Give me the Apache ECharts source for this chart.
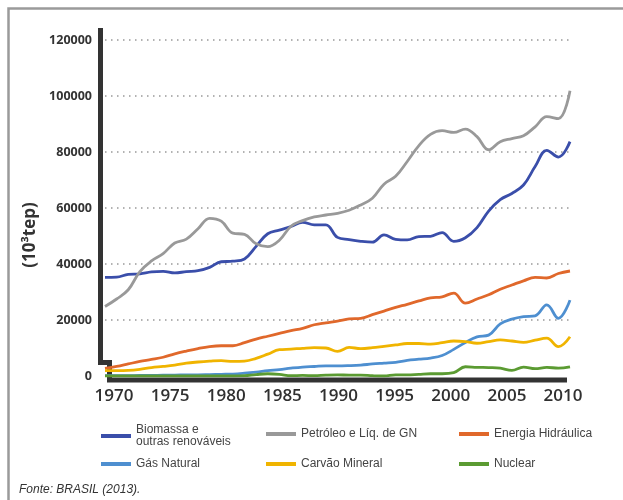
<!DOCTYPE html>
<html>
<head>
<meta charset="utf-8">
<script src="https://cdn.jsdelivr.net/npm/echarts@6/dist/echarts.min.js"></script>
<style>
html,body{margin:0;padding:0;background:#fff;}
#chart{width:623px;height:500px;}
</style>
</head>
<body>
<div id="chart"></div>
<script>
var years = [1970,1971,1972,1973,1974,1975,1976,1977,1978,1979,1980,1981,1982,1983,1984,1985,1986,1987,1988,1989,1990,1991,1992,1993,1994,1995,1996,1997,1998,1999,2000,2001,2002,2003,2004,2005,2006,2007,2008,2009,2010];
var biomassa = [35.2,35.3,36.3,36.5,37.2,37.4,36.8,37.3,37.6,38.8,40.8,41.0,41.8,46.3,50.8,52.1,53.4,54.9,54.0,54.0,49.5,48.7,48.1,47.8,50.4,48.8,48.6,49.8,49.9,51.2,48.1,49.4,53.0,58.9,63.0,65.2,68.2,74.8,80.6,78.2,83.7];
var petroleo = [24.8,27.5,30.8,37.3,41.1,43.7,47.5,48.9,52.6,56.3,55.3,51.0,50.6,47.2,46.2,48.5,53.5,55.5,56.8,57.5,58.1,59.2,61.1,63.5,68.5,71.3,76.6,82.3,86.3,87.6,87.0,88.2,85.5,80.8,83.7,84.8,85.8,89.0,92.6,91.9,101.9];
var hidraulica = [2.7,3.4,4.3,5.2,5.9,6.7,7.9,8.9,9.8,10.5,10.8,10.8,11.9,13.2,14.2,15.2,16.2,17.0,18.3,19.0,19.6,20.4,20.6,21.9,23.2,24.5,25.6,26.8,27.9,28.3,29.6,26.0,27.5,29.0,31.0,32.5,34.0,35.2,35.0,36.6,37.5];
var gasNatural = [0.1,0.1,0.1,0.2,0.2,0.3,0.3,0.4,0.4,0.5,0.6,0.7,1.0,1.4,1.9,2.3,2.8,3.2,3.4,3.6,3.6,3.7,3.9,4.3,4.6,4.9,5.6,6.0,6.4,7.3,9.5,12.0,14.0,14.6,18.6,20.3,21.2,21.5,25.4,20.6,27.1];
var carvao = [1.9,1.9,2.0,2.4,3.0,3.4,3.9,4.6,5.0,5.3,5.5,5.2,5.3,6.3,7.8,9.4,9.6,9.9,10.1,10.0,8.8,10.2,9.8,10.1,10.6,11.1,11.6,11.6,11.4,11.9,12.5,12.3,11.7,12.3,12.9,12.5,12.0,12.8,13.5,10.5,14.0];
var nuclear = [0,0,0,0,0,0,0,0,0,0,0,0,0.1,0.5,0.8,0.6,0.1,0.2,0.1,0.3,0.4,0.3,0.3,0.1,0.0,0.4,0.4,0.6,0.8,0.8,1.2,3.3,3.1,3.0,2.8,2.0,3.2,2.6,3.1,2.8,3.3];
var seriesNames = ['Biomassa e outras renováveis','Petróleo e Líq. de GN','Energia Hidráulica','Gás Natural','Carvão Mineral','Nuclear'];
var yTicks = [0,20000,40000,60000,80000,100000,120000];
var xTicks = [1970,1975,1980,1985,1990,1995,2000,2005,2010];

function pairs(vals){ return years.map(function(y,i){ return [y, vals[i]*1000]; }); }

var colors = ['#3a4eaa','#999999','#e0682b','#4e8fd0','#f0b400','#5b9b32'];
var allVals = [biomassa,petroleo,hidraulica,gasNatural,carvao,nuclear];

var series = seriesNames.map(function(n,i){
  return {
    name:n, type:'line', data:pairs(allVals[i]), smooth:0.4, symbol:'none', xAxisIndex:0,
    lineStyle:{color:colors[i], width:2.8}, itemStyle:{color:colors[i]}, z:3
  };
});

var legendFont = {fontFamily:'"Liberation Sans Narrow","Liberation Sans",sans-serif', fontSize:12, color:'#444', lineHeight:12};
function lg(name, left, top){
  return {data:[name], left:left, top:top, icon:'rect', itemWidth:30, itemHeight:4, padding:0,
    textStyle:legendFont, selectedMode:false,
    formatter:function(n){ return n==='Biomassa e outras renováveis' ? 'Biomassa e\noutras renováveis' : n; }};
}

var chart = echarts.init(document.getElementById('chart'), null, {renderer:'canvas'});
chart.setOption({
  animation:false,
  backgroundColor:'#fff',
  title:{text:'Fonte: BRASIL (2013).', left:19, top:484, padding:0,
    textStyle:{fontFamily:'"Liberation Sans Narrow","Liberation Sans",sans-serif', fontStyle:'italic', fontWeight:'normal', fontSize:12, color:'#333'}},
  legend:[
    lg(seriesNames[0],101,424), lg(seriesNames[1],266,428), lg(seriesNames[2],459,428),
    lg(seriesNames[3],101,458), lg(seriesNames[4],266,458), lg(seriesNames[5],459,458)
  ],
  grid:{left:105, right:53, top:40, bottom:124, containLabel:false},
  xAxis:[
    {type:'value', min:1970, max:2010, position:'bottom',
      axisLine:{show:false}, axisTick:{show:false}, splitLine:{show:false}, axisLabel:{show:false}},
    {type:'value', min:1969.2, max:2010.62, position:'bottom',
      axisLine:{show:false}, axisTick:{show:false}, splitLine:{show:false},
      axisLabel:{customValues:xTicks, fontFamily:'"Open Sans",sans-serif', fontSize:17, fontWeight:600, color:'#303030', margin:12,
        formatter:function(v){ return String(Math.round(v)); }}}
  ],
  yAxis:{type:'value', min:0, max:120000, interval:20000,
    name:'(10³tep)', nameLocation:'middle', nameRotate:90, nameGap:55,
    nameTextStyle:{fontFamily:'"Open Sans",sans-serif', fontSize:17, fontWeight:'bold', color:'#333', padding:[0,54,0,0]},
    axisLine:{show:false}, axisTick:{show:false},
    axisLabel:{fontFamily:'"Open Sans",sans-serif', fontSize:12.5, fontWeight:'bold', color:'#333', margin:13,
      formatter:function(v){ return yTicks.indexOf(v)>=0 ? String(v) : ''; }},
    splitLine:{show:true, showMinLine:false, lineStyle:{color:'#999', width:1.5, type:[1.5,4.5]}}},
  graphic:[
    {type:'rect', shape:{x:8.5,y:8.5,width:700,height:600}, style:{fill:null, stroke:'#9a9a9a', lineWidth:2.5}, z:0, silent:true},
    {type:'polyline', shape:{points:[[100.5,28],[100.5,362.5],[109.5,362.5],[109.5,380],[567,380]]},
      style:{fill:null, stroke:'#333', lineWidth:5, lineJoin:'miter'}, z:1, silent:true}
  ],
  series:series
});
</script>
</body>
</html>
